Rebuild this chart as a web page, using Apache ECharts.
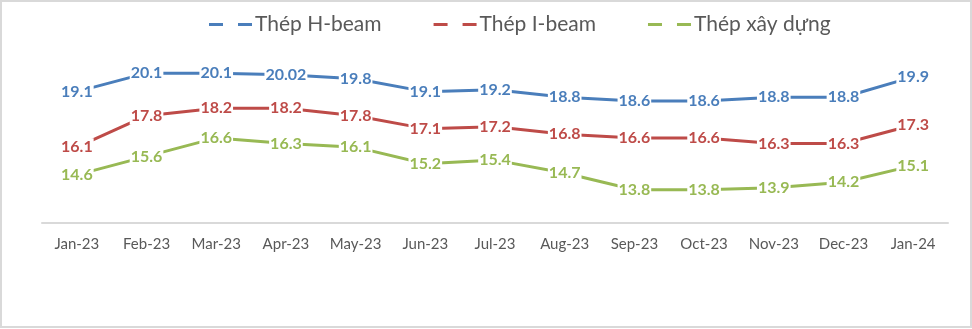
<!DOCTYPE html>
<html>
<head>
<meta charset="utf-8">
<script src="https://cdn.jsdelivr.net/npm/echarts@6/dist/echarts.min.js"></script>
<style>
  html, body { margin: 0; padding: 0; background: #fff; }
  #wrap { position: absolute; left: 0; top: 0; width: 968px; height: 324px; border: 2px solid #d9d9d9; }
  #chart { position: absolute; left: 0; top: 0; width: 972px; height: 329px; }
</style>
</head>
<body>
<div id="wrap"></div>
<div id="chart"></div>
<script>
// Monthly steel prices (million VND / ton)
const months = ['Jan-23', 'Feb-23', 'Mar-23', 'Apr-23', 'May-23', 'Jun-23', 'Jul-23',
                'Aug-23', 'Sep-23', 'Oct-23', 'Nov-23', 'Dec-23', 'Jan-24'];
const hBeam = [19.1, 20.1, 20.1, 20.02, 19.8, 19.1, 19.2, 18.8, 18.6, 18.6, 18.8, 18.8, 19.9];
const iBeam = [16.1, 17.8, 18.2, 18.2, 17.8, 17.1, 17.2, 16.8, 16.6, 16.6, 16.3, 16.3, 17.3];
const construction = [14.6, 15.6, 16.6, 16.3, 16.1, 15.2, 15.4, 14.7, 13.8, 13.8, 13.9, 14.2, 15.1];

const seriesNames = ['Thép H-beam', 'Thép I-beam', 'Thép xây dựng'];
const colors = ['#4a7ebb', '#be4b48', '#98b954'];

const FONT = 'Lato, "Open Sans", sans-serif';
// dashed legend marker: two short strokes
const dashIcon = 'path://M0,0h14v3h-14z M29,0h14v3h-14z';

function makeSeries(name, data, color) {
  return {
    name: name,
    type: 'line',
    data: data,
    symbol: 'circle',
    symbolSize: 1,
    showSymbol: true,
    lineStyle: { color: color, width: 3 },
    itemStyle: { color: color },
    label: {
      show: true,
      position: 'inside',
      color: color,
      fontFamily: FONT,
      fontWeight: 'bold',
      fontSize: 16,
      backgroundColor: '#ffffff',
      padding: [1, 1]
    },
    emphasis: { disabled: true },
    animation: false
  };
}

const chart = echarts.init(document.getElementById('chart'), null, { renderer: 'canvas' });
chart.setOption({
  backgroundColor: 'transparent',
  color: colors,
  legend: {
    top: 9,
    left: 204,
    itemWidth: 43,
    itemHeight: 3,
    itemGap: 52,
    icon: dashIcon,
    textStyle: { color: '#595959', fontFamily: FONT, fontSize: 21, padding: [0, 0, 0, -2] },
    data: seriesNames
  },
  grid: { left: 42, right: 24, top: 38, bottom: 106 },
  xAxis: {
    type: 'category',
    data: months,
    boundaryGap: true,
    axisLine: { lineStyle: { color: '#d9d9d9', width: 2 } },
    axisTick: { show: false },
    axisLabel: { color: '#595959', fontFamily: FONT, fontSize: 15, margin: 14 }
  },
  yAxis: {
    type: 'value',
    min: 12,
    max: 22,
    show: false,
    splitLine: { show: false }
  },
  series: [
    makeSeries(seriesNames[0], hBeam, colors[0]),
    makeSeries(seriesNames[1], iBeam, colors[1]),
    makeSeries(seriesNames[2], construction, colors[2])
  ]
});
</script>
</body>
</html>
